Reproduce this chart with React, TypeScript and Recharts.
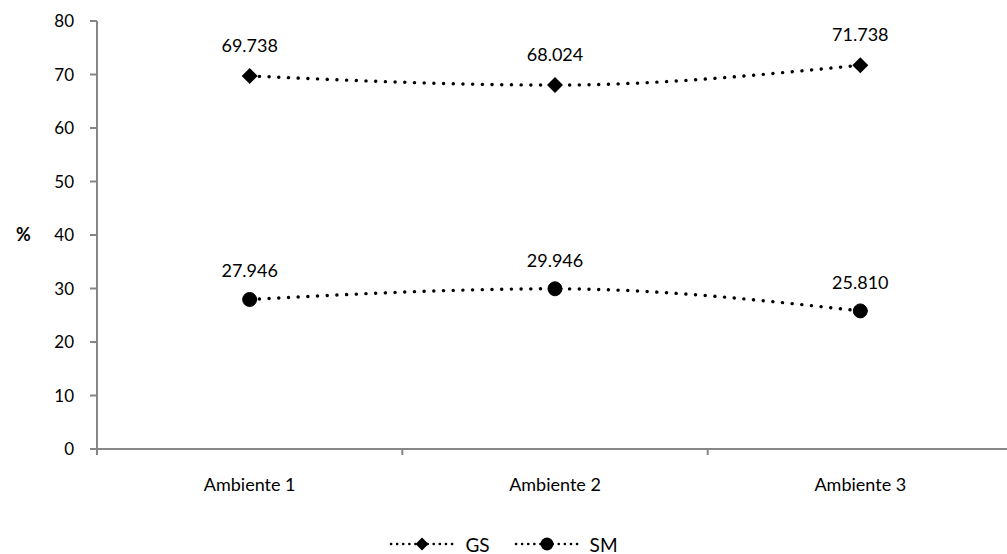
import { LineChart, Line, XAxis, YAxis, Legend, LabelList } from "recharts";

const categories = ["Ambiente 1", "Ambiente 2", "Ambiente 3"];
const gsValues = [69.738, 68.024, 71.738];
const smValues = [27.946, 29.946, 25.81];
const yTicks = [0, 10, 20, 30, 40, 50, 60, 70, 80];

const data = categories.map((name, i) => ({ name, GS: gsValues[i], SM: smValues[i] }));

const AXIS = "#868686";
const X_TICK_SIZE = 6;
const X_TICK_MARGIN = 24;

const Diamond = (props: any) => {
  const { cx, cy, size = 8 } = props;
  if (cx == null || cy == null) return null;
  return (
    <path
      d={`M${cx},${cy - size} L${cx + size},${cy} L${cx},${cy + size} L${cx - size},${cy} Z`}
      fill="#000"
    />
  );
};

const CategoryTick = (props: any) => {
  const { x, y, payload } = props;
  const half = payload.offset ?? 0;
  const axisY = y - X_TICK_SIZE - X_TICK_MARGIN;
  return (
    <g>
      <line x1={x - half} x2={x - half} y1={axisY} y2={axisY + X_TICK_SIZE} stroke={AXIS} strokeWidth={2} />
      <text x={x} y={y} dy={12} textAnchor="middle" fill="#000" fontSize={18}>
        {payload.value}
      </text>
    </g>
  );
};

const dotted = { strokeDasharray: "0.1 9.6", strokeLinecap: "round" as const, strokeWidth: 3.4 };

const LegendIcon = ({ marker }: { marker: "diamond" | "circle" }) => (
  <svg width={66} height={20} style={{ marginRight: 10 }}>
    <line x1={2} x2={64} y1={10} y2={10} stroke="#000" {...dotted} strokeDasharray="0.1 6" strokeWidth={2.6} />
    {marker === "diamond" ? <Diamond cx={33} cy={10} size={6.5} /> : <circle cx={33} cy={10} r={6.5} fill="#000" />}
  </svg>
);

const renderLegend = () => (
  <div style={{ display: "flex", justifyContent: "center", alignItems: "center", height: 24, fontSize: 19 }}>
    <span style={{ display: "flex", alignItems: "center", marginRight: 24 }}>
      <LegendIcon marker="diamond" />
      GS
    </span>
    <span style={{ display: "flex", alignItems: "center" }}>
      <LegendIcon marker="circle" />
      SM
    </span>
  </div>
);

export default function App() {
  return (
    <div
      style={{
        position: "absolute",
        left: 0,
        top: 0,
        width: 1007,
        height: 554,
        overflow: "hidden",
        background: "#fff",
        fontFamily: "Lato, 'Open Sans', sans-serif",
      }}
    >
      <LineChart width={1020} height={554} data={data} margin={{ top: 21, right: 7, left: 0, bottom: 31 }}>
        <XAxis
          dataKey="name"
          scale="band"
          height={50}
          axisLine={{ stroke: AXIS, strokeWidth: 2 }}
          tickLine={false}
          tickSize={X_TICK_SIZE}
          tickMargin={X_TICK_MARGIN}
          tick={<CategoryTick />}
          interval={0}
        />
        <YAxis
          width={97}
          domain={[0, 80]}
          ticks={yTicks}
          axisLine={{ stroke: AXIS, strokeWidth: 2 }}
          tickLine={{ stroke: AXIS, strokeWidth: 2 }}
          tickSize={7}
          tickMargin={16}
          tick={{ fill: "#000", fontSize: 17 }}
          label={{ value: "%", position: "insideLeft", offset: 16, fill: "#000", fontSize: 18, fontWeight: "bold" }}
        />
        <Legend
          verticalAlign="bottom"
          content={renderLegend}
          wrapperStyle={{ top: 532, bottom: "auto", left: 0, width: 1007 }}
        />
        <Line
          type="monotone"
          dataKey="GS"
          stroke="#000"
          {...dotted}
          dot={<Diamond size={8} />}
          activeDot={false}
          isAnimationActive={false}
        >
          <LabelList dataKey="GS" position="top" offset={24} fill="#000" fontSize={18} formatter={(v: any) => Number(v).toFixed(3)} />
        </Line>
        <Line
          type="monotone"
          dataKey="SM"
          stroke="#000"
          {...dotted}
          dot={{ r: 7, fill: "#000", stroke: "#000", strokeWidth: 1, strokeDasharray: "" }}
          activeDot={false}
          isAnimationActive={false}
        >
          <LabelList dataKey="SM" position="top" offset={22} fill="#000" fontSize={18} formatter={(v: any) => Number(v).toFixed(3)} />
        </Line>
      </LineChart>
    </div>
  );
}
